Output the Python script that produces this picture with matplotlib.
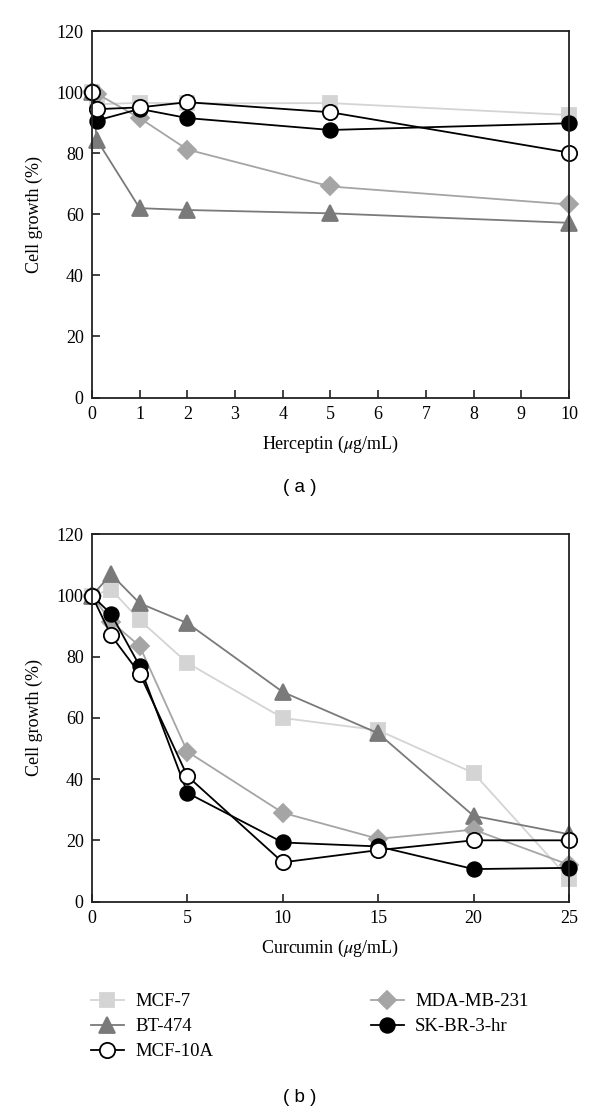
import matplotlib
matplotlib.use("Agg")
import matplotlib.pyplot as plt
from matplotlib.lines import Line2D

plt.rcParams['font.family'] = ['Liberation Serif', 'DejaVu Serif']
plt.rcParams['mathtext.fontset'] = 'stix'

# Herceptin panel (a)
herceptin_dose = [0, 0.1, 1, 2, 5, 10]
herc_mcf7 = [100, 96.0, 96.5, 96.3, 96.4, 92.5]
herc_bt474 = [100, 84.4, 62.0, 61.4, 60.3, 57.2]
herc_mdamb231 = [100, 99.5, 91.5, 81.2, 69.1, 63.2]
herc_skbr3hr = [100, 90.7, 94.5, 91.5, 87.6, 89.8]
herc_mcf10a = [100, 94.4, 95.0, 96.7, 93.4, 80.2]

# Curcumin panel (b)
curcumin_dose = [0, 1, 2.5, 5, 10, 15, 20, 25]
curc_mcf7 = [100, 102, 92, 78, 60, 56, 42, 7.5]
curc_bt474 = [100, 107, 97.5, 91, 68.5, 55, 28, 22]
curc_mdamb231 = [100, 91.5, 83.5, 49, 29, 20.5, 23.5, 12]
curc_skbr3hr = [100, 94, 77, 35.5, 19.3, 18, 10.6, 11]
curc_mcf10a = [100, 87, 74.5, 41, 12.8, 16.8, 20, 20]

names = ['MCF-7', 'BT-474', 'MDA-MB-231', 'SK-BR-3-hr', 'MCF-10A']
# marker, face, line colour, size
styles = {
    'MCF-7':      dict(marker='s', mfc='#d4d4d4', mec='#d4d4d4', color='#d4d4d4', ms=9.5),
    'BT-474':     dict(marker='^', mfc='#7a7a7a', mec='#7a7a7a', color='#7a7a7a', ms=12),
    'MDA-MB-231': dict(marker='D', mfc='#a5a5a5', mec='#a5a5a5', color='#a5a5a5', ms=9),
    'SK-BR-3-hr': dict(marker='o', mfc='black', mec='black', color='black', ms=10.5),
    'MCF-10A':    dict(marker='o', mfc='white', mec='black', color='black', ms=11),
}

fs = 13
fig = plt.figure(figsize=(6, 11.16), dpi=100)
ax1 = fig.add_axes([0.1533, 0.6438, 0.795, 0.3284])
ax2 = fig.add_axes([0.1533, 0.1922, 0.795, 0.3289])


def draw(ax, x, series):
    for name, vals in zip(names, series):
        st = styles[name]
        ax.plot(x, vals, marker=st['marker'], markersize=st['ms'],
                markerfacecolor=st['mfc'], markeredgecolor=st['mec'],
                markeredgewidth=1.3, color=st['color'], linewidth=1.3,
                clip_on=False, label=name)


def style_axes(ax, xmax, xticks, xlabel):
    ax.set_xlim(0, xmax)
    ax.set_ylim(0, 120)
    ax.set_xticks(xticks)
    ax.set_yticks(range(0, 121, 20))
    ax.tick_params(direction='in', length=6, width=1.2, labelsize=fs, pad=6,
                   colors='#222222', labelcolor='black')
    for s in ax.spines.values():
        s.set_linewidth(1.3)
        s.set_color('#222222')
    ax.set_ylabel('Cell growth (%)', fontsize=fs, labelpad=10)
    ax.set_xlabel(xlabel, fontsize=fs, labelpad=8)


draw(ax1, herceptin_dose, [herc_mcf7, herc_bt474, herc_mdamb231, herc_skbr3hr, herc_mcf10a])
draw(ax2, curcumin_dose, [curc_mcf7, curc_bt474, curc_mdamb231, curc_skbr3hr, curc_mcf10a])

style_axes(ax1, 10, range(0, 11), 'Herceptin ($\\mu$g/mL)')
style_axes(ax2, 25, range(0, 26, 5), 'Curcumin ($\\mu$g/mL)')

fig.text(0.5, 1 - 488 / 1116, '( a )', ha='center', va='center',
         fontsize=13.5, family='Liberation Sans')
fig.text(0.5, 1 - 1098 / 1116, '( b )', ha='center', va='center',
         fontsize=13.5, family='Liberation Sans')


def handle(name):
    st = styles[name]
    return Line2D([], [], marker=st['marker'], markersize=st['ms'],
                  markerfacecolor=st['mfc'], markeredgecolor=st['mec'],
                  markeredgewidth=1.3, color=st['color'], linewidth=1.3)


col1 = ['MCF-7', 'BT-474', 'MCF-10A']
col2 = ['MDA-MB-231', 'SK-BR-3-hr']
leg_kw = dict(loc='upper left', frameon=False, fontsize=13.5, handlelength=1.75,
              handletextpad=0.6, labelspacing=0.42, borderaxespad=0, borderpad=0)
leg1 = fig.legend([handle(n) for n in col1], col1,
                  bbox_to_anchor=(91 / 600, 1 - 993 / 1116), **leg_kw)
leg2 = fig.legend([handle(n) for n in col2], col2,
                  bbox_to_anchor=(371 / 600, 1 - 993 / 1116), **leg_kw)

fig.savefig('out.png', dpi=100)
